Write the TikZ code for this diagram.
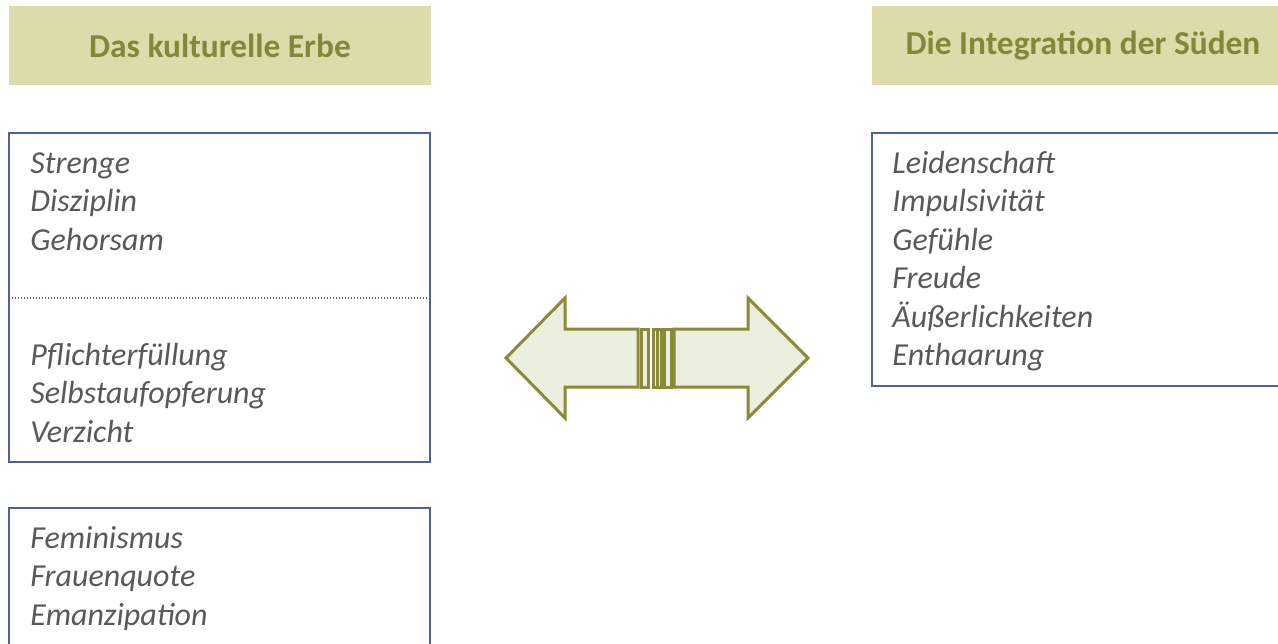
\documentclass[tikz,border=0pt]{standalone}
\usepackage{fontspec}
\setmainfont{Carlito}
\usetikzlibrary{positioning}
\definecolor{headFill}{HTML}{DDDBA9}
\definecolor{headText}{HTML}{84863A}
\definecolor{boxLine}{HTML}{4F6196}
\definecolor{itemText}{HTML}{595959}
\definecolor{arrowFill}{HTML}{EBF0DE}
\definecolor{arrowLine}{HTML}{8A8A38}
\tikzset{
  header/.style={fill=headFill, text=headText, inner sep=0pt,
    minimum width=211pt, minimum height=39.5pt,
    font=\bfseries\fontsize{16.7}{19.25}\selectfont},
  itembox/.style={draw=boxLine, line width=1pt, fill=white},
  % base of a multi-line node is its last line
  items/.style={text=itemText, inner sep=0pt, align=left, anchor=base west,
    font=\itshape\fontsize{16}{19.25}\selectfont},
  arrowpart/.style={draw=arrowLine, fill=arrowFill, line width=1.5pt, line join=miter}
}

\begin{document}
\begin{tikzpicture}[x=0.5pt, y=-0.5pt]
      \useasboundingbox (0, 0) rectangle (1278, 643);
      \clip (0, 0) rectangle (1278, 643);

      % headers
      \node[header] (erbe) at (220, 45.5) {Das kulturelle Erbe};
      \node[header] (sueden) at (1083, 45.5) {Die Integration der Süden};

      % left boxes
      \draw[itembox] (9, 133) rectangle (430, 462);
      \draw[boxLine, dotted, line width=0.6pt, dash pattern=on 0.5pt off 1pt] (9, 298) -- (430, 298);
      \draw[itembox] (9, 508) rectangle (430, 700);

      \node[items] (tugend) at (30, 250) {Strenge\\Disziplin\\Gehorsam};
      \node[items] (pflicht) at (30, 442) {Pflichterfüllung\\Selbstaufopferung\\Verzicht};
      \node[items] (modern) at (30, 625) {Feminismus\\Frauenquote\\Emanzipation};

      % right box
      \draw[itembox] (872, 133) rectangle (1294, 386);
      \node[items] (gefuehl) at (892, 365.5)
        {Leidenschaft\\Impulsivität\\Gefühle\\Freude\\Äußerlichkeiten\\Enthaarung};

      % double arrow with stripes
      \draw[arrowpart] (506, 358) -- (565, 298) -- (565, 329) -- (638, 329)
        -- (638, 387) -- (565, 387) -- (565, 418) -- cycle;
      \draw[arrowpart] (808, 358) -- (748, 298) -- (748, 329) -- (674, 329)
        -- (674, 387) -- (748, 387) -- (748, 418) -- cycle;
      \foreach \a/\b in {641/648, 653/657, 657/661, 664/671}
        \draw[arrowpart] (\a, 329) rectangle (\b, 387);
    \end{tikzpicture}
\end{document}
